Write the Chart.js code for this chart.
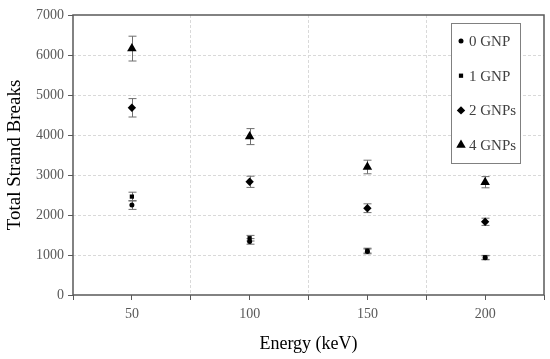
<!DOCTYPE html>
<html>
<head>
<meta charset="utf-8">
<script src="https://cdn.jsdelivr.net/npm/chart.js@4/dist/chart.umd.min.js"></script>
<style>
  html, body { margin: 0; padding: 0; background: #fff; }
  #wrap { width: 550px; height: 359px; }
</style>
</head>
<body>
<div id="wrap"><canvas id="chart"></canvas></div>
<script>
// Data
const energies = [50, 100, 150, 200];
const seriesNames = ['0 GNP', '1 GNP', '2 GNPs', '4 GNPs'];
const gnp0 = [2250, 1340, 1090, 930];
const gnp0Err = [110, 70, 60, 50];
const gnp1 = [2460, 1420, 1110, 940];
const gnp1Err = [110, 70, 60, 50];
const gnp2 = [4680, 2830, 2170, 1830];
const gnp2Err = [230, 140, 110, 90];
const gnp4 = [6160, 3960, 3200, 2820];
const gnp4Err = [310, 200, 170, 140];
const xTicks = [50, 100, 150, 200];
const xGridLines = [75, 125, 175];

const FONT = '"Liberation Serif", "DejaVu Serif", serif';
const GREY = '#595959';

function makeSet(label, values, errs, style, radius) {
  return {
    label: label,
    data: energies.map((x, i) => ({ x: x, y: values[i], err: errs[i] })),
    pointStyle: style,
    pointRadius: radius,
    pointHoverRadius: radius,
    backgroundColor: '#000',
    borderColor: '#000',
    borderWidth: 0,
    showLine: false
  };
}

// Error bars drawn under the markers
const errorBars = {
  id: 'errorBars',
  beforeDatasetsDraw(chart) {
    const ctx = chart.ctx;
    const xs = chart.scales.x, ys = chart.scales.y;
    ctx.save();
    ctx.strokeStyle = '#6e6e6e';
    ctx.lineWidth = 1;
    chart.data.datasets.forEach(ds => {
      ds.data.forEach(p => {
        const px = Math.round(xs.getPixelForValue(p.x)) + 0.5;
        const top = ys.getPixelForValue(p.y + p.err);
        const bot = ys.getPixelForValue(p.y - p.err);
        ctx.beginPath();
        ctx.moveTo(px, top); ctx.lineTo(px, bot);
        ctx.moveTo(px - 4, top); ctx.lineTo(px + 4, top);
        ctx.moveTo(px - 4, bot); ctx.lineTo(px + 4, bot);
        ctx.stroke();
      });
    });
    ctx.restore();
  }
};

// Frame round the plot area and boxed legend
const frameLegend = {
  id: 'frameLegend',
  afterDraw(chart) {
    const ctx = chart.ctx;
    const a = chart.chartArea;
    ctx.save();
    ctx.strokeStyle = GREY;
    ctx.lineWidth = 1.5;
    ctx.strokeRect(a.left, a.top, a.right - a.left, a.bottom - a.top);

    // legend
    const bx = 451.5, by = 23.5, bw = 69, bh = 140;
    ctx.fillStyle = '#fff';
    ctx.fillRect(bx, by, bw, bh);
    ctx.strokeStyle = '#808080';
    ctx.lineWidth = 1;
    ctx.strokeRect(bx, by, bw, bh);
    ctx.font = '15px ' + FONT;
    ctx.textBaseline = 'middle';
    chart.data.datasets.forEach((ds, i) => {
      const y = 41 + i * 34.7;
      ctx.fillStyle = '#000';
      ctx.strokeStyle = '#000';
      Chart.helpers.drawPoint(ctx, {
        pointStyle: ds.pointStyle,
        radius: ds.pointRadius,
        borderWidth: 0,
        rotation: 0
      }, 461, y);
      ctx.fillStyle = '#404040';
      ctx.fillText(ds.label, 469, y + 1);
    });
    ctx.restore();
  }
};

new Chart(document.getElementById('chart'), {
  type: 'scatter',
  data: {
    datasets: [
      makeSet(seriesNames[0], gnp0, gnp0Err, 'circle', 2.5),
      makeSet(seriesNames[1], gnp1, gnp1Err, 'rect', 3),
      makeSet(seriesNames[2], gnp2, gnp2Err, 'rectRot', 4.2),
      makeSet(seriesNames[3], gnp4, gnp4Err, 'triangle', 5.5)
    ]
  },
  options: {
    responsive: true,
    maintainAspectRatio: false,
    animation: false,
    layout: { padding: { top: 15, right: 6, left: 0, bottom: 0 } },
    plugins: {
      legend: { display: false },
      tooltip: { enabled: false }
    },
    scales: {
      x: {
        type: 'linear',
        min: 25,
        max: 225,
        afterBuildTicks: s => {
          s.ticks = [25, 50, 75, 100, 125, 150, 175, 200, 225].map(v => ({ value: v }));
        },
        afterFit: s => { s.height = 64; },
        ticks: {
          autoSkip: false,
          maxRotation: 0,
          color: GREY,
          padding: 6,
          font: { family: FONT, size: 14 },
          callback: v => xTicks.includes(v) ? String(v) : ''
        },
        grid: {
          color: c => (c.tick && xGridLines.includes(c.tick.value)) ? '#d9d9d9' : 'rgba(0,0,0,0)',
          tickColor: GREY,
          tickLength: 5,
          lineWidth: 1
        },
        border: { display: false, dash: [3, 2] },
        title: {
          display: true,
          text: 'Energy (keV)',
          color: '#000',
          font: { family: FONT, size: 18 },
          padding: { top: 2 }
        }
      },
      y: {
        min: 0,
        max: 7000,
        afterFit: s => { s.width = 73; },
        ticks: {
          stepSize: 1000,
          color: GREY,
          padding: 4,
          font: { family: FONT, size: 14 },
          callback: v => String(v)
        },
        grid: {
          color: c => (c.tick && c.tick.value > 0 && c.tick.value < 7000) ? '#d9d9d9' : 'rgba(0,0,0,0)',
          tickColor: GREY,
          tickLength: 5,
          lineWidth: 1
        },
        border: { display: false, dash: [3, 2] },
        title: {
          display: true,
          text: 'Total Strand Breaks',
          color: '#000',
          font: { family: FONT, size: 19 },
          padding: { bottom: 2 }
        }
      }
    }
  },
  plugins: [errorBars, frameLegend]
});
</script>
</body>
</html>
